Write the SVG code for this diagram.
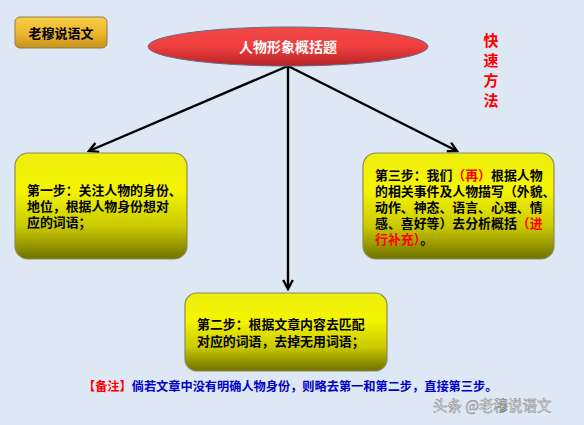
<svg xmlns="http://www.w3.org/2000/svg" width="584" height="425" viewBox="0 0 584 425">
<defs>
<linearGradient id="gBtn" x1="0" y1="0" x2="0" y2="1">
<stop offset="0" stop-color="#F7CE45"/><stop offset="0.55" stop-color="#EDB52C"/><stop offset="1" stop-color="#C4901C"/>
</linearGradient>
<linearGradient id="gEl" x1="0" y1="0" x2="0" y2="1">
<stop offset="0" stop-color="#F04848"/><stop offset="0.5" stop-color="#F03E3E"/><stop offset="1" stop-color="#B42426"/>
</linearGradient>
<linearGradient id="gBox" x1="0" y1="0" x2="0" y2="1">
<stop offset="0" stop-color="#EDED10"/><stop offset="0.35" stop-color="#F5F500"/><stop offset="0.7" stop-color="#C8C800"/><stop offset="1" stop-color="#707000"/>
</linearGradient>
<marker id="ah" viewBox="0 0 10 10" refX="8.5" refY="5" markerWidth="5" markerHeight="5" orient="auto" markerUnits="strokeWidth">
<path d="M1,1 L8.5,5 L1,9" fill="none" stroke="#000" stroke-width="2"/>
</marker>
<style>
.cn{font-family:"Noto Sans CJK SC","Liberation Sans",sans-serif;font-weight:bold}
.box{fill:url(#gBox);stroke:#8C8C5A;stroke-width:1.2}
.bt{font-size:12.9px;fill:#000}
.red{fill:#FF0000}
.conn{stroke:#000;stroke-width:2.4;fill:none;marker-end:url(#ah)}
</style>
</defs>
<rect width="584" height="425" fill="#DEE8F4"/>

<g id="connectors">
<line class="conn" x1="288" y1="66" x2="89" y2="151"/>
<line class="conn" x1="288" y1="66" x2="457" y2="151"/>
<line class="conn" x1="288" y1="66" x2="288" y2="289"/>
</g>

<g id="brand">
<rect x="15" y="17" width="92" height="31" rx="5" fill="url(#gBtn)" stroke="#8E7C52" stroke-width="1"/>
<text class="cn" x="61" y="37.5" font-size="13" text-anchor="middle" fill="#000">老穆说语文</text>
</g>

<g id="title">
<ellipse cx="288" cy="46.5" rx="140" ry="19.5" fill="url(#gEl)" stroke="#6A6A8E" stroke-width="1"/>
<text class="cn" x="288" y="51.5" font-size="14" text-anchor="middle" fill="#FFFFFF">人物形象概括题</text>
</g>

<g id="method">
<text class="cn red" x="491" y="46" font-size="15" text-anchor="middle" font-weight="normal">快</text>
<text class="cn red" x="491" y="66" font-size="15" text-anchor="middle" font-weight="normal">速</text>
<text class="cn red" x="491" y="86" font-size="15" text-anchor="middle" font-weight="normal">方</text>
<text class="cn red" x="491" y="106" font-size="15" text-anchor="middle" font-weight="normal">法</text>
</g>

<g id="step1">
<rect class="box" x="15" y="153" width="172" height="106" rx="13"/>
<text class="cn bt" x="27" y="195">第一步：关注人物的身份、</text>
<text class="cn bt" x="27" y="211">地位，根据人物身份想对</text>
<text class="cn bt" x="27" y="227">应的词语；</text>
</g>

<g id="step3">
<rect class="box" x="363" y="153" width="191" height="106" rx="13"/>
<text class="cn bt" x="375" y="180">第三步：我们<tspan class="red">（再）</tspan>根据人物</text>
<text class="cn bt" x="375" y="196">的相关事件及人物描写（外貌、</text>
<text class="cn bt" x="375" y="212">动作、神态、语言、心理、情</text>
<text class="cn bt" x="375" y="228">感、喜好等）去分析概括<tspan class="red">（进</tspan></text>
<text class="cn bt" x="375" y="244"><tspan class="red">行补充）</tspan>。</text>
</g>

<g id="step2">
<rect class="box" x="185" y="293" width="202" height="78" rx="12"/>
<text class="cn bt" x="197" y="329">第二步：根据文章内容去匹配</text>
<text class="cn bt" x="197" y="346">对应的词语，去掉无用词语；</text>
</g>

<g id="note">
<text class="cn" x="83" y="390.5" font-size="12.2" fill="#0000CC"><tspan fill="#FF0000">【备注】</tspan>倘若文章中没有明确人物身份，则略去第一和第二步，直接第三步。</text>
</g>

<g id="watermark">
<text x="433" y="411" font-family="Noto Sans CJK SC,Liberation Sans,sans-serif" font-size="14.5" fill="#FFFFFF" stroke="#7A7A7A" stroke-width="0.5">头条 @老穆说语文</text>
</g>
</svg>
